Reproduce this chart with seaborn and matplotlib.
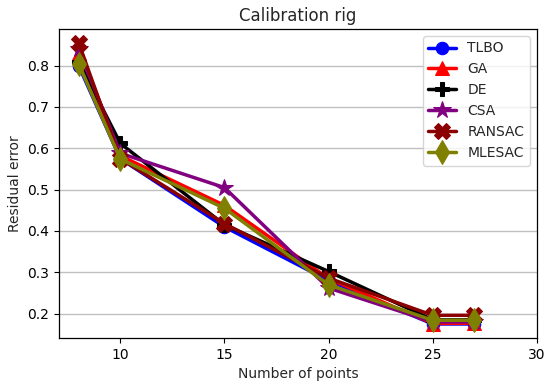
import numpy as np
import pandas as pd
import seaborn as sns
import matplotlib
matplotlib.use('Agg')
import matplotlib.pyplot as plt

points = [8, 10, 15, 20, 25, 27]
tlbo = [0.800, 0.575, 0.410, 0.280, 0.175, 0.175]
ga = [0.830, 0.582, 0.462, 0.285, 0.176, 0.177]
de = [0.810, 0.612, 0.415, 0.302, 0.185, 0.185]
csa = [0.840, 0.588, 0.505, 0.262, 0.180, 0.180]
ransac = [0.855, 0.575, 0.418, 0.286, 0.196, 0.196]
mlesac = [0.805, 0.574, 0.455, 0.270, 0.184, 0.184]

names = ['TLBO', 'GA', 'DE', 'CSA', 'RANSAC', 'MLESAC']
colors = ['blue', 'red', 'black', 'purple', 'darkred', 'olive']
markers = ['o', '^', 'P', '*', 'X', 'd']
sizes = [9, 10, 10, 13, 11, 12]

sns.set_style('ticks')
plt.rcParams['font.family'] = ['DejaVu Sans']

fig = plt.figure(figsize=(5.5, 3.85), dpi=100)
ax = fig.add_axes([0.107, 0.122, 0.869, 0.803])

for name, vals, c, m, s in zip(names, [tlbo, ga, de, csa, ransac, mlesac], colors, markers, sizes):
    df = pd.DataFrame({'x': points, 'y': vals})
    sns.lineplot(data=df, x='x', y='y', ax=ax, color=c, marker=m, markersize=s,
                 markeredgecolor=c, linewidth=2.5, label=name)

ax.set_xlim(right=30)
ax.set_xticks([10, 15, 20, 25, 30])
ax.set_yticks([0.2, 0.3, 0.4, 0.5, 0.6, 0.7, 0.8])
ax.yaxis.grid(True, color='#c0c0c0', linewidth=1)
ax.set_axisbelow(True)
for sp in ax.spines.values():
    sp.set_color('black')
    sp.set_linewidth(0.9)
ax.tick_params(labelsize=10, colors='black')
ax.set_xlabel('Number of points', fontsize=10)
ax.set_ylabel('Residual error', fontsize=10)
ax.set_title('Calibration rig', fontsize=12)
ax.legend(loc='upper right', fontsize=10, framealpha=0.8, edgecolor='#cccccc')

fig.savefig('out.png', dpi=100)
